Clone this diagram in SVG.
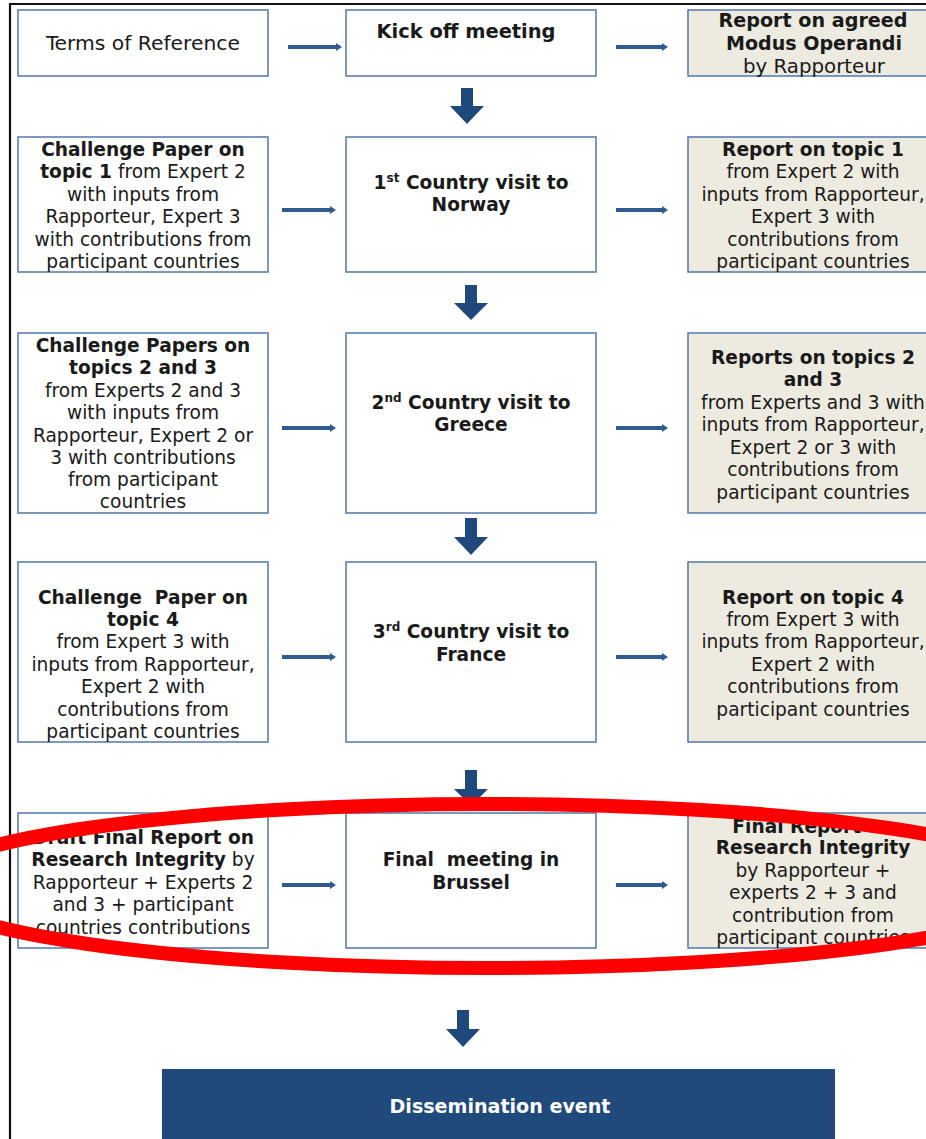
<svg xmlns="http://www.w3.org/2000/svg" width="926" height="1139" viewBox="0 0 926 1139">
<style>
.box{fill:#FFFFFF;stroke:#5B7FAE;stroke-width:1.6}
.rbox{fill:#EDEBE0;stroke:#5B7FAE;stroke-width:1.6}
.t{font-family:"DejaVu Sans",Verdana,sans-serif;font-size:18.6px;fill:#1A1A1A;text-anchor:middle}
.b{font-weight:bold}
.n{font-family:"DejaVu Sans Condensed","Liberation Sans Narrow",sans-serif;font-size:19px;fill:#1A1A1A;text-anchor:middle}
.arr{fill:#2E5C8F}
.darr{fill:#1F497D}
</style>
<rect x="0" y="0" width="926" height="1139" fill="#FFFFFF"/>
<path d="M10,1139 V4 H926" fill="none" stroke="#111" stroke-width="2.2"/>

<g id="terms">
<rect class="box" x="18" y="10" width="250" height="66"/>
<text class="n" x="143" y="50" textLength="194" lengthAdjust="spacingAndGlyphs">Terms of Reference</text>
</g>
<g id="kickoff">
<rect class="box" x="346" y="10" width="250" height="66"/>
<text class="n b" x="466" y="38" textLength="179" lengthAdjust="spacingAndGlyphs">Kick off meeting</text>
</g>
<g id="modus">
<rect class="rbox" x="688" y="10" width="250" height="66"/>
<text class="n b" x="813" y="27" textLength="189" lengthAdjust="spacingAndGlyphs">Report on agreed</text>
<text class="n b" x="814" y="50" textLength="176" lengthAdjust="spacingAndGlyphs">Modus Operandi</text>
<text class="n" x="814" y="73" textLength="142" lengthAdjust="spacingAndGlyphs">by Rapporteur</text>
</g>

<g id="cp1">
<rect class="box" x="18" y="137" width="250" height="135"/>
<text class="t" x="143" y="156"><tspan class="b">Challenge Paper on</tspan></text>
<text class="t" x="143" y="178"><tspan class="b">topic 1</tspan> from Expert 2</text>
<text class="t" x="143" y="201">with inputs from</text>
<text class="t" x="143" y="223">Rapporteur, Expert 3</text>
<text class="t" x="143" y="246">with contributions from</text>
<text class="t" x="143" y="268">participant countries</text>
</g>
<g id="norway">
<rect class="box" x="346" y="137" width="250" height="135"/>
<text class="t b" x="471" y="189">1<tspan font-size="12" dy="-7">st</tspan><tspan dy="7"> Country visit to</tspan></text>
<text class="t b" x="471" y="211">Norway</text>
</g>
<g id="rep1">
<rect class="rbox" x="688" y="137" width="250" height="135"/>
<text class="t b" x="813" y="156">Report on topic 1</text>
<text class="t" x="813" y="178">from Expert 2 with</text>
<text class="t" x="813" y="201">inputs from Rapporteur,</text>
<text class="t" x="813" y="223">Expert 3 with</text>
<text class="t" x="813" y="246">contributions from</text>
<text class="t" x="813" y="268">participant countries</text>
</g>

<g id="cp23">
<rect class="box" x="18" y="333" width="250" height="180"/>
<text class="t b" x="143" y="352">Challenge Papers on</text>
<text class="t b" x="143" y="374">topics 2 and 3</text>
<text class="t" x="143" y="397">from Experts 2 and 3</text>
<text class="t" x="143" y="419">with inputs from</text>
<text class="t" x="143" y="442">Rapporteur, Expert 2 or</text>
<text class="t" x="143" y="464">3 with contributions</text>
<text class="t" x="143" y="486">from participant</text>
<text class="t" x="143" y="508">countries</text>
</g>
<g id="greece">
<rect class="box" x="346" y="333" width="250" height="180"/>
<text class="t b" x="471" y="409">2<tspan font-size="12" dy="-7">nd</tspan><tspan dy="7"> Country visit to</tspan></text>
<text class="t b" x="471" y="431">Greece</text>
</g>
<g id="rep23">
<rect class="rbox" x="688" y="333" width="250" height="180"/>
<text class="t b" x="813" y="364">Reports on topics 2</text>
<text class="t b" x="813" y="386">and 3</text>
<text class="t" x="813" y="409">from Experts and 3 with</text>
<text class="t" x="813" y="431">inputs from Rapporteur,</text>
<text class="t" x="813" y="454">Expert 2 or 3 with</text>
<text class="t" x="813" y="476">contributions from</text>
<text class="t" x="813" y="499">participant countries</text>
</g>

<g id="cp4">
<rect class="box" x="18" y="562" width="250" height="180"/>
<text class="t b" x="143" y="604" xml:space="preserve">Challenge  Paper on</text>
<text class="t b" x="143" y="626">topic 4</text>
<text class="t" x="143" y="648">from Expert 3 with</text>
<text class="t" x="143" y="671">inputs from Rapporteur,</text>
<text class="t" x="143" y="693">Expert 2 with</text>
<text class="t" x="143" y="716">contributions from</text>
<text class="t" x="143" y="738">participant countries</text>
</g>
<g id="france">
<rect class="box" x="346" y="562" width="250" height="180"/>
<text class="t b" x="471" y="638">3<tspan font-size="12" dy="-7">rd</tspan><tspan dy="7"> Country visit to</tspan></text>
<text class="t b" x="471" y="661">France</text>
</g>
<g id="rep4">
<rect class="rbox" x="688" y="562" width="250" height="180"/>
<text class="t b" x="813" y="604">Report on topic 4</text>
<text class="t" x="813" y="626">from Expert 3 with</text>
<text class="t" x="813" y="648">inputs from Rapporteur,</text>
<text class="t" x="813" y="671">Expert 2 with</text>
<text class="t" x="813" y="693">contributions from</text>
<text class="t" x="813" y="716">participant countries</text>
</g>

<g id="draftfinal">
<rect class="box" x="18" y="813" width="250" height="135"/>
<text class="t b" x="143" y="844">Draft Final Report on</text>
<text class="t" x="143" y="866"><tspan class="b">Research Integrity</tspan> by</text>
<text class="t" x="143" y="889">Rapporteur + Experts 2</text>
<text class="t" x="143" y="911">and 3 + participant</text>
<text class="t" x="143" y="934">countries contributions</text>
</g>
<g id="brussel">
<rect class="box" x="346" y="813" width="250" height="135"/>
<text class="t b" x="471" y="866" xml:space="preserve">Final  meeting in</text>
<text class="t b" x="471" y="889">Brussel</text>
</g>
<g id="finalreport">
<rect class="rbox" x="688" y="813" width="250" height="135"/>
<text class="t b" x="813" y="833">Final Report on</text>
<text class="t b" x="813" y="854">Research Integrity</text>
<text class="t" x="813" y="877">by Rapporteur +</text>
<text class="t" x="813" y="899">experts 2 + 3 and</text>
<text class="t" x="813" y="922">contribution from</text>
<text class="t" x="813" y="944">participant countries</text>
</g>

<g id="dissemination">
<rect x="162" y="1069" width="673" height="80" fill="#214A7C"/>
<text class="n b" x="500" y="1113" fill="#FFFFFF" style="fill:#FFFFFF" textLength="221" lengthAdjust="spacingAndGlyphs">Dissemination event</text>
</g>

<g id="connectors">
<polygon class="arr" points="288,45 336,45 336,43 342,47 336,51 336,49 288,49"/>
<polygon class="arr" points="616,45 662,45 662,43 668,47 662,51 662,49 616,49"/>
<polygon class="arr" points="282,208 330,208 330,206 336,210 330,214 330,212 282,212"/>
<polygon class="arr" points="616,208 662,208 662,206 668,210 662,214 662,212 616,212"/>
<polygon class="arr" points="282,426 330,426 330,424 336,428 330,432 330,430 282,430"/>
<polygon class="arr" points="616,426 662,426 662,424 668,428 662,432 662,430 616,430"/>
<polygon class="arr" points="282,655 330,655 330,653 336,657 330,661 330,659 282,659"/>
<polygon class="arr" points="616,655 662,655 662,653 668,657 662,661 662,659 616,659"/>
<polygon class="arr" points="282,883 330,883 330,881 336,885 330,889 330,887 282,887"/>
<polygon class="arr" points="616,883 662,883 662,881 668,885 662,889 662,887 616,887"/>
<polygon class="darr" points="461,88 473,88 473,106 484,106 467,124 450,106 461,106"/>
<polygon class="darr" points="465,285 477,285 477,303 488,303 471,320 454,303 465,303"/>
<polygon class="darr" points="465,518 477,518 477,537 488,537 471,555 454,537 465,537"/>
<polygon class="darr" points="465,770 477,770 477,789 488,789 471,806 454,789 465,789"/>
<polygon class="darr" points="457,1010 469,1010 469,1029 480,1029 463,1047 446,1029 457,1029"/>
</g>

<ellipse cx="488" cy="886" rx="566" ry="82" fill="none" stroke="#FF0000" stroke-width="14"/>
</svg>
